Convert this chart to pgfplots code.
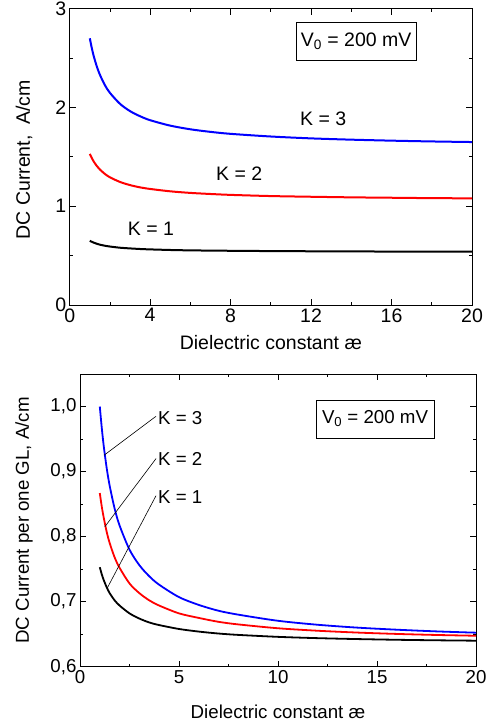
\documentclass[border=0pt]{standalone}
\usepackage{fontspec}
\setmainfont{Liberation Sans}
\usepackage{pgfplots}
\pgfplotsset{compat=1.18}
\pgfplotsset{
  myax/.style={
    scale only axis,
    axis line style={line width=0.9pt},
    every tick/.style={line width=0.8pt, black},
    tick align=inside,
    major tick length=6pt,
    minor tick length=3pt,
    /pgf/number format/assume math mode=true,
    xmin=0, xmax=20,
    clip=false,
  }
}
\begin{document}
\begin{tikzpicture}
\useasboundingbox (0pt,0pt) rectangle (499pt,-725pt);
% ---------- top panel ----------
\begin{axis}[myax,
  font=\fontsize{19.5}{23}\selectfont,
  tick label style={font=\fontsize{19.5}{23}\selectfont},
  label style={font=\fontsize{19.5}{23}\selectfont},
  at={(69.7pt,-305pt)}, anchor=south west,
  width=402.3pt, height=296.3pt,
  ymin=0, ymax=3,
  xtick={0,4,8,12,16,20}, minor x tick num=1,
  ytick={0,1,2,3}, minor y tick num=1,
  xlabel={Dielectric constant æ},
  ylabel={DC Current,\ \ A/cm},
  xlabel style={at={(axis description cs:0.5,-0.151)}, anchor=base},
  ylabel style={at={(axis description cs:-0.1136,0.49)}, anchor=center, rotate=0},
]
\addplot[blue, line width=2pt, smooth] coordinates {
(1,2.700) (1.1,2.600) (1.2,2.516) (1.35,2.414) (1.5,2.332) (1.75,2.226) (2,2.148) (2.5,2.037) (3,1.963) (3.5,1.911) (4,1.871) (5,1.816) (6,1.779) (7,1.753) (8,1.733) (10,1.706) (12,1.687) (14,1.674) (16,1.664) (18,1.656) (20,1.650)};
\addplot[red, line width=2pt, smooth] coordinates {
(1,1.530) (1.1,1.487) (1.2,1.451) (1.35,1.407) (1.5,1.372) (1.75,1.327) (2,1.293) (2.5,1.246) (3,1.214) (3.5,1.191) (4,1.175) (5,1.151) (6,1.135) (7,1.124) (8,1.115) (10,1.103) (12,1.096) (14,1.090) (16,1.086) (18,1.082) (20,1.080)};
\addplot[black, line width=2pt, smooth] coordinates {
(1,0.650) (1.1,0.640) (1.2,0.631) (1.35,0.620) (1.5,0.611) (1.75,0.600) (2,0.592) (2.5,0.580) (3,0.573) (3.5,0.567) (4,0.563) (5,0.557) (6,0.553) (7,0.551) (8,0.549) (10,0.546) (12,0.5440) (14,0.5425) (16,0.5412) (18,0.5404) (20,0.5398)};
\node at (axis cs:4.04,0.77) {K = 1};
\node at (axis cs:8.43,1.33) {K = 2};
\node at (axis cs:12.6,1.89) {K = 3};
\node[draw, line width=0.7pt, minimum width=120pt, minimum height=38pt, inner sep=0pt] at (axis cs:14.24,2.672) {V\textsubscript{0} = 200 mV};
\end{axis}
% ---------- bottom panel ----------
\begin{axis}[myax,
  font=\fontsize{18.7}{22}\selectfont,
  tick label style={font=\fontsize{18.7}{22}\selectfont},
  label style={font=\fontsize{18.7}{22}\selectfont},
  at={(80pt,-666.7pt)}, anchor=south west,
  width=396pt, height=292.7pt,
  ymin=0.6, ymax=1.05,
  xtick={0,5,10,15,20}, minor x tick num=1,
  ytick={0.6,0.7,0.8,0.9,1.0}, minor y tick num=1,
  yticklabel style={/pgf/number format/.cd, fixed, fixed zerofill, precision=1, use comma},
  xlabel={Dielectric constant æ},
  ylabel={DC Current per one GL, A/cm},
  xlabel style={at={(axis description cs:0.5,-0.1753)}, anchor=base},
  ylabel style={at={(axis description cs:-0.1414,0.5)}, anchor=center, rotate=0},
]
\addplot[blue, line width=1.8pt, smooth] coordinates {
(1,1.000) (1.1,0.967) (1.2,0.939) (1.35,0.905) (1.5,0.878) (1.75,0.843) (2,0.817) (2.5,0.780) (3,0.756) (3.5,0.739) (4,0.726) (5,0.707) (6,0.695) (7,0.686) (8,0.680) (10,0.6706) (12,0.6645) (14,0.6601) (16,0.6569) (18,0.6543) (20,0.6523)};
\addplot[red, line width=1.8pt, smooth] coordinates {
(1,0.867) (1.1,0.846) (1.2,0.829) (1.35,0.807) (1.5,0.790) (1.75,0.768) (2,0.752) (2.5,0.728) (3,0.713) (3.5,0.702) (4,0.694) (5,0.682) (6,0.675) (7,0.669) (8,0.665) (10,0.6591) (12,0.6553) (14,0.6525) (16,0.6504) (18,0.6488) (20,0.6476)};
\addplot[black, line width=1.8pt, smooth] coordinates {
(1,0.753) (1.1,0.742) (1.2,0.733) (1.35,0.722) (1.5,0.713) (1.75,0.702) (2,0.694) (2.5,0.682) (3,0.674) (3.5,0.668) (4,0.664) (5,0.658) (6,0.654) (7,0.651) (8,0.6489) (10,0.6459) (12,0.6439) (14,0.6425) (16,0.6414) (18,0.6406) (20,0.6400)};
\draw[line width=0.6pt] (axis cs:3.84,0.985) -- (axis cs:1.21,0.925);
\draw[line width=0.6pt] (axis cs:3.84,0.920) -- (axis cs:1.25,0.815);
\draw[line width=0.6pt] (axis cs:3.84,0.863) -- (axis cs:1.36,0.720);
\node[anchor=west, inner sep=0pt] at (axis cs:3.94,0.982) {K = 3};
\node[anchor=west, inner sep=0pt] at (axis cs:3.94,0.920) {K = 2};
\node[anchor=west, inner sep=0pt] at (axis cs:3.94,0.861) {K = 1};
\node[draw, line width=0.7pt, minimum width=118pt, minimum height=38pt, inner sep=0pt] at (axis cs:14.9,0.981) {V\textsubscript{0} = 200 mV};
\end{axis}
\end{tikzpicture}
\end{document}
